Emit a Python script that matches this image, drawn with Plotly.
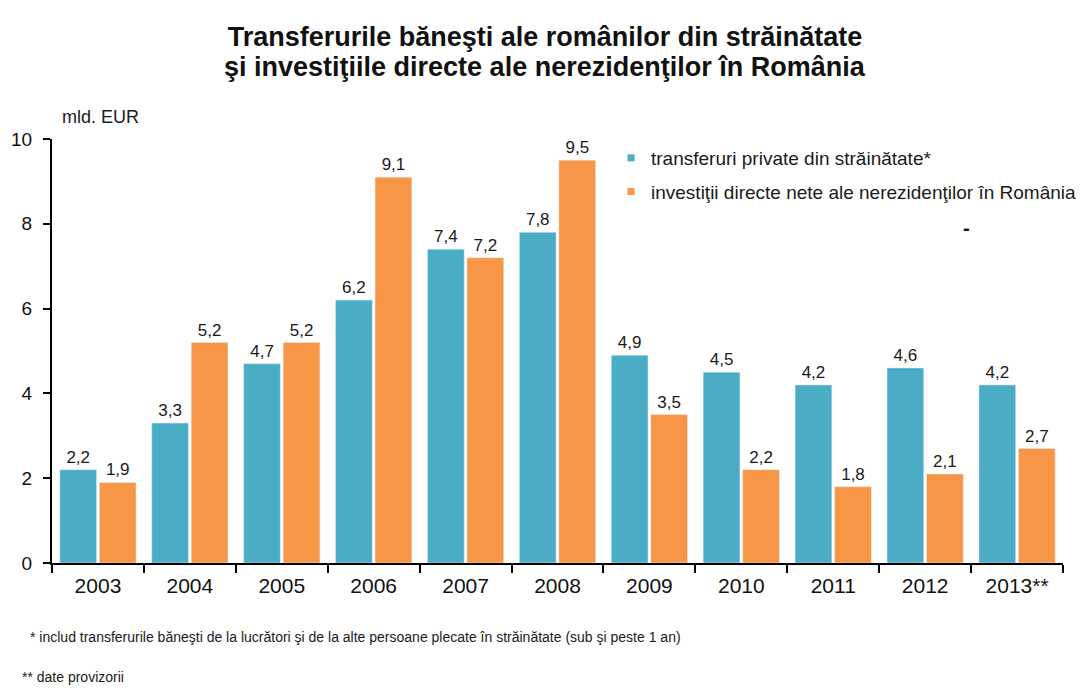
import plotly.graph_objects as go

years = ["2003", "2004", "2005", "2006", "2007", "2008", "2009", "2010", "2011", "2012", "2013**"]
transferuri = [2.2, 3.3, 4.7, 6.2, 7.4, 7.8, 4.9, 4.5, 4.2, 4.6, 4.2]
investitii = [1.9, 5.2, 5.2, 9.1, 7.2, 9.5, 3.5, 2.2, 1.8, 2.1, 2.7]
y_ticks = [0, 2, 4, 6, 8, 10]
name_a = "transferuri private din străinătate*"
name_b = "investiţii directe nete ale nerezidenţilor în România"

def fmt(v):
    return f"{v:.1f}".replace(".", ",")

FONT = "Liberation Sans, Arial, sans-serif"
TEAL = "#4BACC6"
ORANGE = "#F79646"
TXT = "#1a1a1a"

# page body has an 8px offset; plot area in screen px: x 52..1063, y 139..563
W, H = 1081, 681

fig = go.Figure()
fig.add_trace(go.Bar(
    x=years, y=transferuri, name=name_a, showlegend=False,
    marker=dict(color=TEAL),
    text=[fmt(v) for v in transferuri], textposition="outside",
    textfont=dict(size=17, color=TXT, family=FONT), cliponaxis=False,
))
fig.add_trace(go.Bar(
    x=years, y=investitii, name=name_b, showlegend=False,
    marker=dict(color=ORANGE),
    text=[fmt(v) for v in investitii], textposition="outside",
    textfont=dict(size=17, color=TXT, family=FONT), cliponaxis=False,
))
fig.add_trace(go.Scatter(x=[None], y=[None], mode="markers", name=name_a, legendgroup="a",
                         marker=dict(symbol="square", size=7, color=TEAL)))
fig.add_trace(go.Scatter(x=[None], y=[None], mode="markers", name=name_b, legendgroup="b",
                         marker=dict(symbol="square", size=7, color=ORANGE)))

fig.update_layout(
    width=W, height=H,
    margin=dict(l=44, r=26, t=131, b=126, autoexpand=False),
    paper_bgcolor="white", plot_bgcolor="white",
    font=dict(family=FONT, color=TXT),
    barmode="group", bargap=0.14, bargroupgap=0.07,
    title=dict(
        text="<b>Transferurile băneşti ale românilor din străinătate</b>",
        x=(545 - 8) / W, xanchor="center", y=1 - (37 - 8) / H, yanchor="middle",
        font=dict(size=27, family=FONT, color="#111"),
    ),
    legend=dict(
        x=(611 - 52) / 1011, y=1.0, xanchor="left", yanchor="top",
        font=dict(size=19, family=FONT, color=TXT),
        bgcolor="rgba(0,0,0,0)", tracegroupgap=6,
        itemwidth=30,
    ),
    xaxis=dict(
        type="category", showline=True, linecolor="black", linewidth=2,
        ticks="outside", tickson="boundaries", ticklen=8, tickwidth=2, tickcolor="black",
        tickfont=dict(size=21, family=FONT, color="#111"), ticklabelstandoff=3,
        showgrid=False, automargin=False,
    ),
    yaxis=dict(
        range=[0, 10], tickvals=y_ticks, showline=True, linecolor="black", linewidth=2,
        ticks="outside", ticklen=7, tickwidth=2, tickcolor="black",
        tickfont=dict(size=19, family=FONT, color="#111"), ticklabelstandoff=7,
        showgrid=False, zeroline=False, automargin=False,
    ),
    annotations=[
        dict(text="<b>şi investiţiile directe ale nerezidenţilor în România</b>",
             xref="paper", yref="paper", x=(545 - 52) / 1011, y=(563 - 67) / 424,
             xanchor="center", yanchor="middle", showarrow=False,
             font=dict(size=27, family=FONT, color="#111")),
        dict(text="mld. EUR", xref="paper", yref="paper", x=(60 - 52) / 1011, y=(563 - 117) / 424,
             xanchor="left", yanchor="middle",
             showarrow=False, font=dict(size=18, family=FONT, color=TXT)),
        dict(text="<b>-</b>", xref="paper", yref="paper", x=(966 - 52) / 1011, y=(563 - 228) / 424,
             xanchor="center", yanchor="middle",
             showarrow=False, font=dict(size=20, family=FONT, color="#111")),
        dict(text="* includ transferurile băneşti de la lucrători şi de la alte persoane plecate în străinătate (sub şi peste 1 an)",
             xref="paper", yref="paper", x=(28 - 52) / 1011, y=-(637 - 563) / 424, xanchor="left", yanchor="middle",
             showarrow=False, font=dict(size=14, family=FONT, color=TXT)),
        dict(text="** date provizorii",
             xref="paper", yref="paper", x=(20 - 52) / 1011, y=-(677 - 563) / 424, xanchor="left", yanchor="middle",
             showarrow=False, font=dict(size=14, family=FONT, color=TXT)),
    ],
)

fig.write_html("out.html")
